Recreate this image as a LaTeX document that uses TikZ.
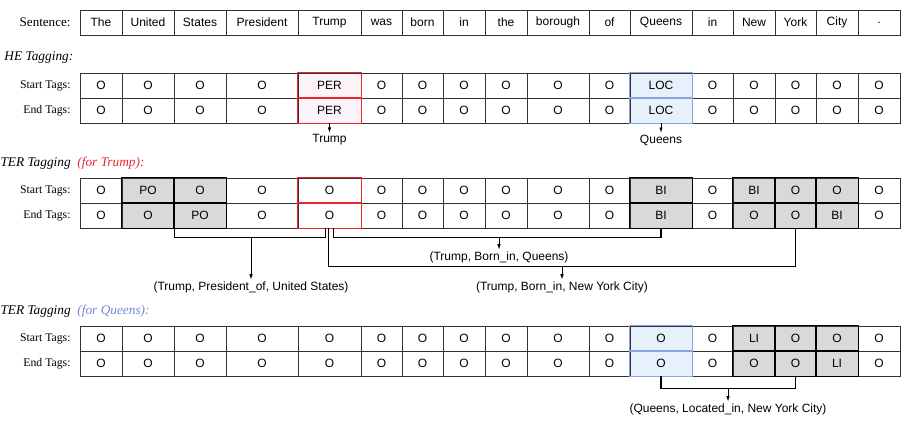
\documentclass[tikz,border=0pt]{standalone}
\usepackage{fontspec}
\setmainfont{Liberation Serif}
\newfontfamily\cellfont{Liberation Sans}
\usetikzlibrary{arrows.meta}

\definecolor{perline}{HTML}{E8262E}
\definecolor{perfill}{HTML}{FDF4F9}
\definecolor{locline}{HTML}{86A3E3}
\definecolor{locfill}{HTML}{E7F1FC}
\definecolor{greyfill}{HTML}{D9D9D9}
\definecolor{queenstxt}{HTML}{7088D6}

\tikzset{every picture/.style={line width=0.75pt}}
\tikzset{
	cell/.style={draw=black!80, line width=0.6pt, minimum height=18.75pt, inner sep=0pt, font=\cellfont\fontsize{9}{11}\selectfont},
	cellkind/.style={#1},
	plainc/.style={},
	greyc/.style={fill=greyfill},
	perc/.style={fill=perfill},
	locc/.style={fill=locfill},
	rowlab/.style={anchor=east, inner sep=0pt, font=\fontsize{8.8}{10}\selectfont},
	headline/.style={anchor=west, inner sep=0pt, font=\itshape\fontsize{10}{12}\selectfont},
	tuple/.style={inner sep=1pt, font=\cellfont\fontsize{9}{11}\selectfont},
	arr/.style={-{Latex[length=4pt,width=2.6pt]}, line width=0.6pt},
	bracket/.style={line width=0.8pt},
}

% column borders of the token grid
\def\colx{{80,122,174,226,298,361,402,443,485,527,589,630,692,733,775,816,858,900}}

% one row of cells: name, centre y, list of text/kind
\newcommand{\tagrow}[3]{%
	\foreach [count=\i] \txt/\knd in {#3} {
		\pgfmathsetmacro{\xl}{\colx[\i-1]}
		\pgfmathsetmacro{\xr}{\colx[\i]}
		\node[cell, cellkind/.expanded=\knd, minimum width={(\xr-\xl)*0.75pt}] (#1-\i) at ({(\xl+\xr)/2},#2) {\txt};
	}%
}

\begin{document}
\begin{tikzpicture}[x=0.75pt,y=0.75pt,yscale=-1,xscale=1]
		\useasboundingbox (0,0) rectangle (920,422);
		
		%Sentence
		\node[rowlab, font=\fontsize{9.8}{11}\selectfont] (l-sent) at (71,22.5) {Sentence:};
		\tagrow{s}{22.5}{The/plainc,United/plainc,States/plainc,President/plainc,Trump/plainc,was/plainc,born/plainc,in/plainc,the/plainc,borough/plainc,of/plainc,Queens/plainc,in/plainc,New/plainc,York/plainc,City/plainc,./plainc}
		
		%HE tagging
		\node[headline] (he-head) at (4,58) {HE Tagging:};
		\node[rowlab] (l-he1) at (71,85.5) {Start Tags:};
		\node[rowlab] (l-he2) at (71,110.5) {End Tags:};
		\tagrow{he1}{85.5}{O/plainc,O/plainc,O/plainc,O/plainc,PER/perc,O/plainc,O/plainc,O/plainc,O/plainc,O/plainc,O/plainc,LOC/locc,O/plainc,O/plainc,O/plainc,O/plainc,O/plainc}
		\tagrow{he2}{110.5}{O/plainc,O/plainc,O/plainc,O/plainc,PER/perc,O/plainc,O/plainc,O/plainc,O/plainc,O/plainc,O/plainc,LOC/locc,O/plainc,O/plainc,O/plainc,O/plainc,O/plainc}
		
		%TER tagging for Trump
		\node[headline] (ter-trump) at (0,163) {TER Tagging\hspace{5pt}\textcolor{perline}{(for Trump):}};
		\node[rowlab] (l-t1) at (71,190.5) {Start Tags:};
		\node[rowlab] (l-t2) at (71,215.5) {End Tags:};
		\tagrow{t1}{190.5}{O/plainc,PO/greyc,O/greyc,O/plainc,O/plainc,O/plainc,O/plainc,O/plainc,O/plainc,O/plainc,O/plainc,BI/greyc,O/plainc,BI/greyc,O/greyc,O/greyc,O/plainc}
		\tagrow{t2}{215.5}{O/plainc,O/greyc,PO/greyc,O/plainc,O/plainc,O/plainc,O/plainc,O/plainc,O/plainc,O/plainc,O/plainc,BI/greyc,O/plainc,O/greyc,O/greyc,BI/greyc,O/plainc}
		
		%TER tagging for Queens
		\node[headline] (ter-queens) at (0,311.5) {TER Tagging\hspace{5pt}\textcolor{queenstxt}{(for Queens):}};
		\node[rowlab] (l-q1) at (71,338.5) {Start Tags:};
		\node[rowlab] (l-q2) at (71,363.5) {End Tags:};
		\tagrow{q1}{338.5}{O/plainc,O/plainc,O/plainc,O/plainc,O/plainc,O/plainc,O/plainc,O/plainc,O/plainc,O/plainc,O/plainc,O/locc,O/plainc,LI/greyc,O/greyc,O/greyc,O/plainc}
		\tagrow{q2}{363.5}{O/plainc,O/plainc,O/plainc,O/plainc,O/plainc,O/plainc,O/plainc,O/plainc,O/plainc,O/plainc,O/plainc,O/locc,O/plainc,O/greyc,O/greyc,LI/greyc,O/plainc}
		
		%borders on top
		\foreach \n in {he1-5,he2-5,t1-5,t2-5}
			\draw[perline] (\n.north west) rectangle (\n.south east);
		\foreach \n in {he1-12,he2-12,q1-12,q2-12}
			\draw[locline] (\n.north west) rectangle (\n.south east);
		\foreach \n in {t1-2,t1-3,t2-2,t2-3,t1-12,t2-12,t1-14,t1-15,t1-16,t2-14,t2-15,t2-16,q1-14,q1-15,q1-16,q2-14,q2-15,q2-16}
			\draw[line width=0.85pt] (\n.north west) rectangle (\n.south east);
		
		%HE outputs
		\node[tuple] (he-trump) at (329.5,140) {Trump};
		\draw[arr] (he2-5) -- (he-trump);
		\node[tuple] (he-queens) at (661,140) {Queens};
		\draw[arr] (he2-12) -- (he-queens);
		
		%TER outputs for Trump
		\draw[bracket] (t2-2.south east) -- ++(0,9) coordinate (po-l) -| ([xshift=-3pt]t2-5.south);
		\node[tuple] (po) at (251,287) {(Trump, President\_of, United States)};
		\draw[arr] (po-l -| po) -- (po);
		\draw[bracket] ([xshift=3pt]t2-5.south) -- ++(0,9) coordinate (bq-l) -| (t2-12.south);
		\node[tuple] (bq) at (499,257) {(Trump, Born\_in, Queens)};
		\draw[arr] (bq-l -| bq) -- (bq);
		\draw[bracket] ([xshift=-1pt]t2-5.south) -- ++(0,38.5) coordinate (bn-l) -| (t2-15.south);
		\node[tuple] (bn) at (562,287) {(Trump, Born\_in, New York City)};
		\draw[arr] (bn-l -| bn) -- (bn);
		
		%TER output for Queens
		\draw[bracket] (q2-12.south) -- ++(0,12) coordinate (li-l) -| (q2-15.south);
		\node[tuple] (li) at (728,409) {(Queens, Located\_in, New York City)};
		\draw[arr] (li-l -| li) -- (li);
		
\end{tikzpicture}
\end{document}
